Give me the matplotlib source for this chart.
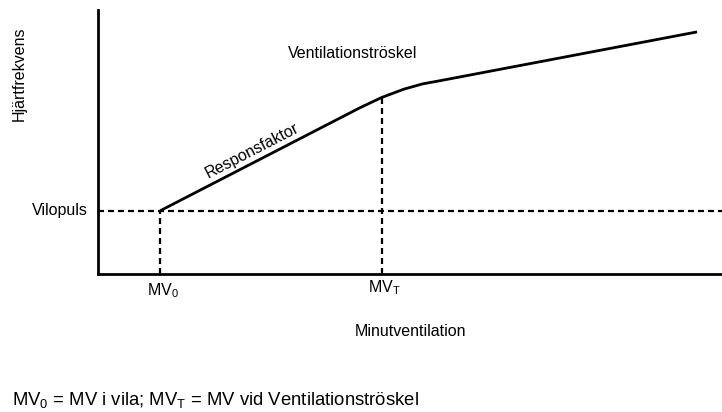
import numpy as np
import matplotlib
matplotlib.use("Agg")
import matplotlib.pyplot as plt

plt.rcParams["font.family"] = ["Liberation Sans", "DejaVu Sans"]
plt.rcParams["mathtext.fontset"] = "custom"
plt.rcParams["mathtext.rm"] = "Liberation Sans"
plt.rcParams["mathtext.default"] = "regular"

# heart rate response vs minute ventilation (arbitrary units)
mv_rest = 1.0
mv_threshold = 4.55
rest_rate = 2.4
curve_mv = [1.0, 4.2, 4.55, 4.9, 5.2, 5.5, 9.6]
curve_hr = [2.4, 6.3, 6.69, 7.0, 7.2, 7.33, 9.17]

x_label = "Minutventilation"
y_label = "Hjärtfrekvens"
rest_label = "Vilopuls"
threshold_label = "Ventilationströskel"
slope_label = "Responsfaktor"
footnote = "MV$_0$ = MV i vila; MV$_T$ = MV vid Ventilationströskel"

W, H = 722, 412
fig = plt.figure(figsize=(W / 100, H / 100), dpi=100)
fig.patch.set_facecolor("white")

ax = fig.add_axes([98 / W, (H - 274) / H, (W - 98) / W, 264 / H])
ax.patch.set_visible(False)
ax.set_xlim(0, 10)
ax.set_ylim(0, 10)
ax.set_xticks([])
ax.set_yticks([])
for side in ["top", "right"]:
    ax.spines[side].set_visible(False)
for side in ["left", "bottom"]:
    ax.spines[side].set_linewidth(2.0)

# response curve
ax.plot(curve_mv, curve_hr, color="black", lw=2.0, solid_joinstyle="round",
        solid_capstyle="butt", clip_on=False, zorder=3)

# reference lines
hr_at_threshold = np.interp(mv_threshold, curve_mv, curve_hr)
dash = dict(color="black", lw=1.6, dashes=(2.7, 1.8), clip_on=False, zorder=2)
ax.plot([0, 10], [rest_rate, rest_rate], **dash)
ax.plot([mv_rest, mv_rest], [0, rest_rate], **dash)
ax.plot([mv_threshold, mv_threshold], [0, hr_at_threshold], **dash)

fs = 11.5
ax.annotate(rest_label, xy=(0, rest_rate), xytext=(-7, 0), textcoords="offset points",
            ha="right", va="center", fontsize=fs)
ax.annotate("MV$_0$", xy=(mv_rest, 0), xytext=(2, -15), textcoords="offset points",
            ha="center", va="baseline", fontsize=fs)
ax.annotate("MV$_T$", xy=(mv_threshold, 0), xytext=(2, -13), textcoords="offset points",
            ha="center", va="baseline", fontsize=fs)
ax.annotate(x_label, xy=(0.5, 0), xycoords="axes fraction", xytext=(0, -45),
            textcoords="offset points", ha="center", va="baseline", fontsize=fs)
ax.annotate(threshold_label, xy=(mv_threshold, hr_at_threshold), xytext=(-21, 28),
            textcoords="offset points", ha="center", va="baseline", fontsize=fs)

# slope label follows the first segment
p0 = ax.transData.transform((curve_mv[0], curve_hr[0]))
p1 = ax.transData.transform((curve_mv[1], curve_hr[1]))
angle = np.degrees(np.arctan2(p1[1] - p0[1], p1[0] - p0[0]))
mid = ((curve_mv[0] + curve_mv[1]) / 2, (curve_hr[0] + curve_hr[1]) / 2)
ax.annotate(slope_label, xy=mid, xytext=(-6, 6), textcoords="offset points",
            ha="center", va="center", rotation=angle, rotation_mode="anchor",
            fontsize=fs)

fig.text(19 / W, 1 - 74 / H, y_label, rotation=90, ha="center", va="center", fontsize=fs)
fig.text(12 / W, 1 - 405 / H, footnote, ha="left", va="baseline", fontsize=13.3)

fig.savefig("out.png", dpi=100)
